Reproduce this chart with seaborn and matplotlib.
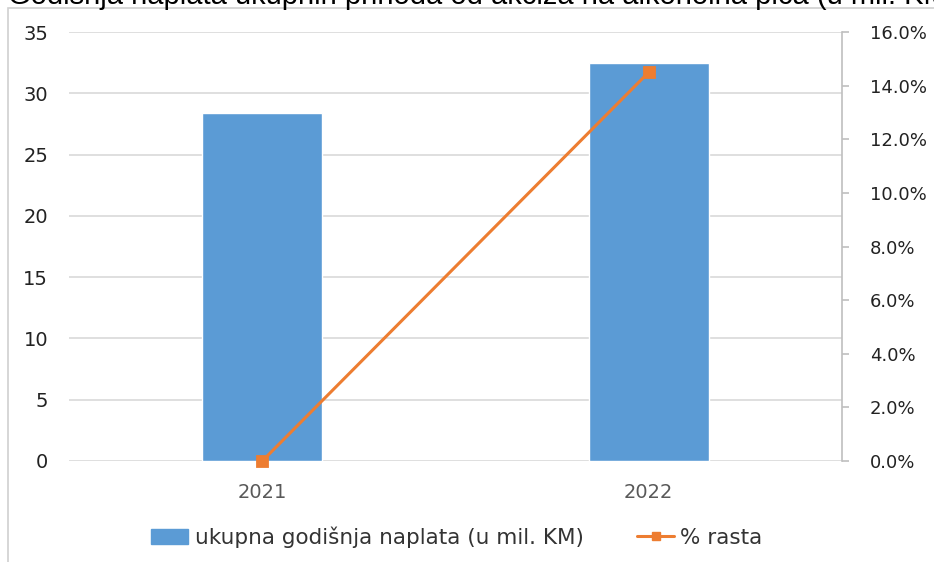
import pandas as pd
import matplotlib.pyplot as plt
import seaborn as sns
from matplotlib.patches import Rectangle
from matplotlib.lines import Line2D
from matplotlib.ticker import PercentFormatter

# Data
years = ["2021", "2022"]
naplata = [28.4, 32.5]        # ukupna godišnja naplata (u mil. KM)
rast = [0.0, 14.5]            # % rasta

BAR_COLOR = "#5B9BD5"
LINE_COLOR = "#ED7D31"
GRID_COLOR = "#D9D9D9"

sns.set_style("white")
plt.rcParams['font.family'] = ['DejaVu Sans']

df = pd.DataFrame({"godina": years, "naplata": naplata, "rast": rast})

fig = plt.figure(figsize=(9.34, 5.62), dpi=100)
ax = fig.add_axes([69 / 934, 1 - 461 / 562, (842 - 69) / 934, (461 - 32) / 562])

# chart area frame and title (cut off at the top edge, as in the source image)
fig.patches.append(Rectangle((8 / 934, -0.1), 1.2, 1 - 8 / 562 + 0.1, transform=fig.transFigure,
                             fill=False, edgecolor="#D0D0D0", linewidth=1.2))
fig.text(8 / 934, 1 - 4 / 562, "Godišnja naplata ukupnih prihoda od akciza na alkoholna pića (u mil. KM)",
         fontsize=21, family="Liberation Sans", color="black", va="baseline", ha="left")

sns.barplot(data=df, x="godina", y="naplata", color=BAR_COLOR, width=0.31,
            saturation=1, ax=ax, zorder=2)
ax.set_ylim(0, 35)
ax.set_xlim(-0.5, 1.5)
ax.set_yticks(range(0, 36, 5))
ax.grid(axis="y", color=GRID_COLOR, linewidth=1.2, zorder=0)
ax.set_axisbelow(True)
ax.set_xlabel("")
ax.set_ylabel("")
for s in ["top", "left", "right", "bottom"]:
    ax.spines[s].set_visible(False)
ax.tick_params(axis="y", length=0, pad=15, labelsize=14, labelcolor="#222222")
ax.tick_params(axis="x", length=0, pad=16, labelsize=14, labelcolor="#595959")

ax2 = ax.twinx()
sns.pointplot(data=df, x="godina", y="rast", color=LINE_COLOR, markers="s",
              linestyles="-", ax=ax2, errorbar=None)
for ln in ax2.lines:
    ln.set_linewidth(2.2)
    ln.set_markersize(7)
    ln.set_clip_on(False)
for coll in ax2.collections:
    coll.set_sizes([50])
    coll.set_clip_on(False)
ax2.set_ylim(0, 16)
ax2.set_xlim(-0.5, 1.5)
ax2.set_yticks(range(0, 17, 2))
ax2.yaxis.set_major_formatter(PercentFormatter(decimals=1))
ax2.set_ylabel("")
ax2.set_xlabel("")
for s in ["top", "left", "bottom"]:
    ax2.spines[s].set_visible(False)
ax2.spines["right"].set_color("#BFBFBF")
ax2.spines["right"].set_linewidth(1.2)
ax2.tick_params(axis="y", length=5, width=1.2, color="#BFBFBF", pad=15,
                labelsize=13, labelcolor="#222222")

handles = [Rectangle((0, 0), 1, 1, color=BAR_COLOR),
           Line2D([0], [0], color=LINE_COLOR, lw=2.2, marker="s", markersize=6)]
fig.legend(handles, ["ukupna godišnja naplata (u mil. KM)", "% rasta"],
           loc="center", bbox_to_anchor=(457 / 934, 1 - 537 / 562), ncol=2, frameon=False,
           fontsize=15.5, handlelength=1.7, handletextpad=0.3, columnspacing=2.5,
           labelcolor="#333333")

fig.savefig("out.png", dpi=100)
